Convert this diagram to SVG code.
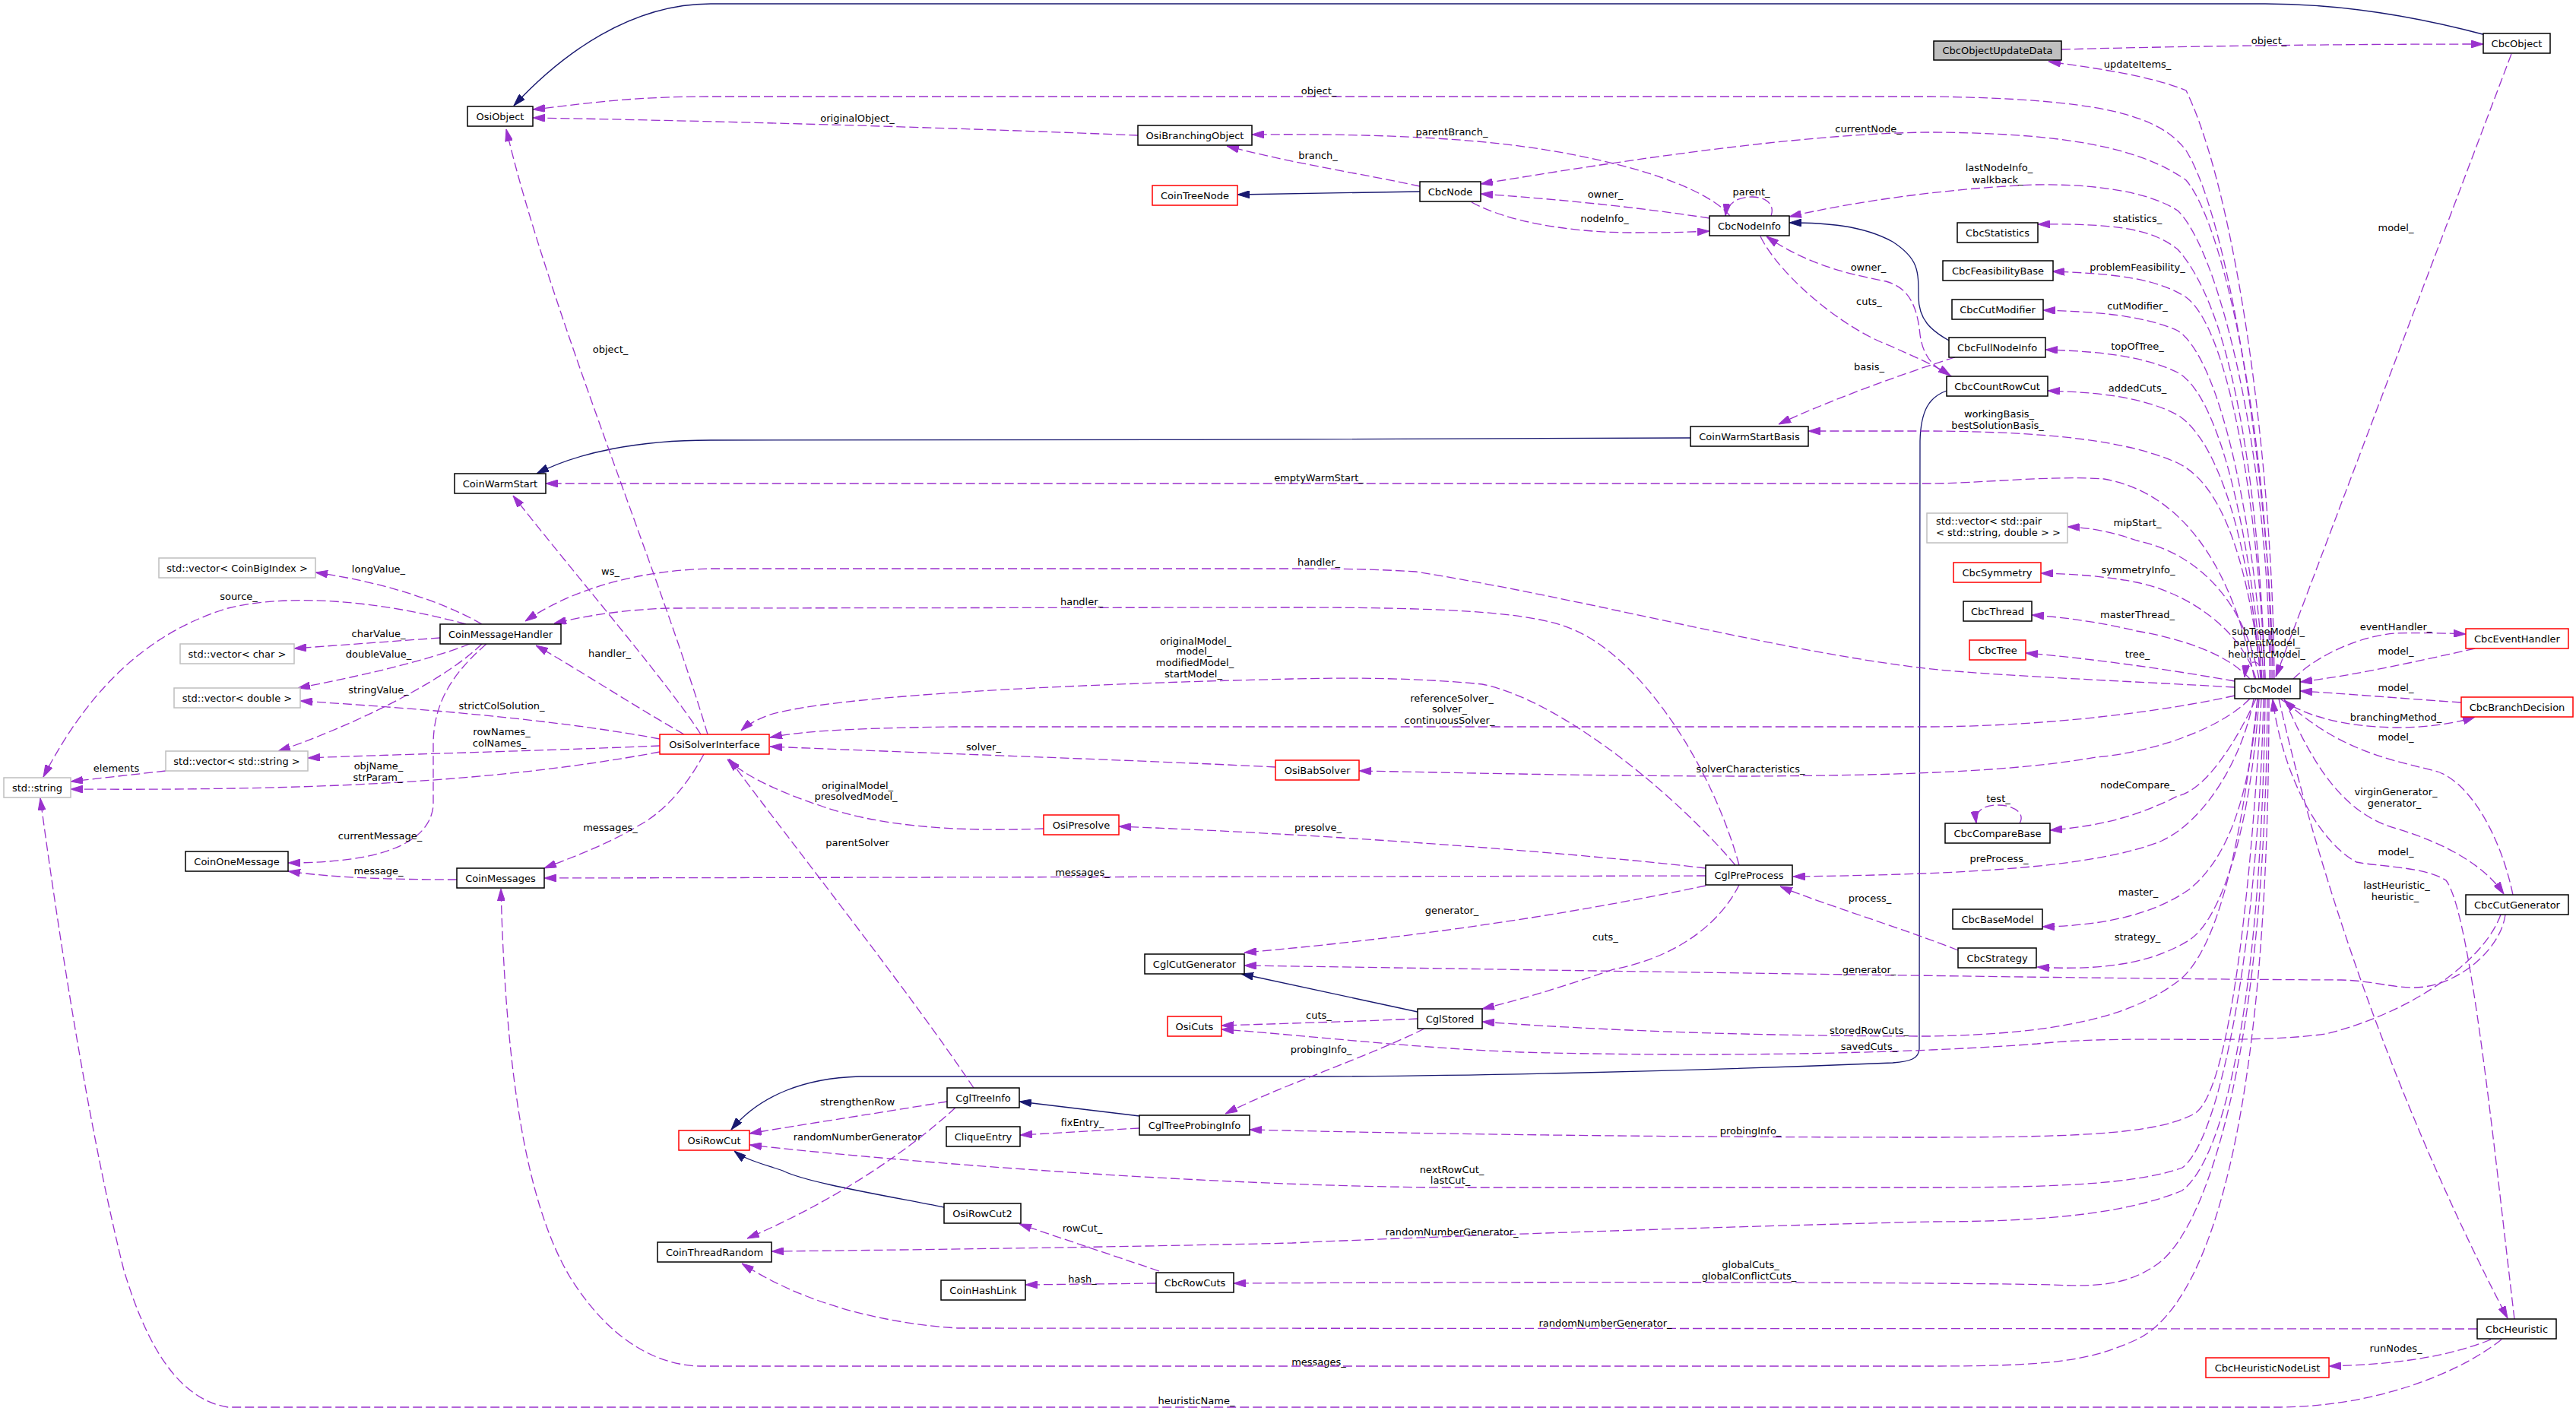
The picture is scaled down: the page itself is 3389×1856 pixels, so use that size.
<svg xmlns="http://www.w3.org/2000/svg" width="3389" height="1856" viewBox="0 0 3389 1856">
<style>
rect{fill:#fff;stroke:#000;stroke-width:1.5}
rect.r{stroke:#ff0000}
rect.g{stroke:#bfbfbf}
rect.f{fill:#bfbfbf}
text{font-family:"DejaVu Sans","Liberation Sans",sans-serif;font-size:13px;fill:#000}
.n text{text-anchor:middle}
.e{fill:none;stroke:#9a32cd;stroke-width:1.3;stroke-dasharray:12,5;marker-end:url(#ap)}
.i{fill:none;stroke:#191970;stroke-width:1.3;marker-end:url(#an)}
.l text{text-anchor:middle}
</style>
<defs>
<marker id="ap" markerUnits="userSpaceOnUse" viewBox="0 0 16 10" refX="16" refY="5" markerWidth="16" markerHeight="10" orient="auto"><path d="M0,0 L16,5 L0,10 z" fill="#9a32cd" stroke="#9a32cd" stroke-width="1"/></marker>
<marker id="an" markerUnits="userSpaceOnUse" viewBox="0 0 16 10" refX="16" refY="5" markerWidth="16" markerHeight="10" orient="auto"><path d="M0,0 L16,5 L0,10 z" fill="#191970" stroke="#191970" stroke-width="1"/></marker>
</defs>
<rect x="0" y="0" width="3389" height="1856" style="fill:#fff;stroke:none"/>
<g id="edges">
<path class="i" d="M3270,46 C3150,14 3050,5 2980,5 L935,5 C830,5 740,70 676,139"/>
<path class="i" d="M1868,252 L1628,256"/>
<path class="i" d="M2566,449 C2540,435 2524,420 2524,390 C2524,356 2524,340 2490,318 C2450,296 2400,293 2354,293"/>
<path class="i" d="M2224,576 C2100,578 1100,579 935,579 C840,579 760,595 706,623"/>
<path class="i" d="M2561,514 C2538,522 2527,540 2526,580 L2525,1380 C2524,1392 2515,1396 2490,1398 C2200,1410 1900,1416 1700,1416 L1130,1416 C1060,1418 1000,1440 962,1486"/>
<path class="i" d="M1499,1468 L1341,1449"/>
<path class="i" d="M1242,1588 C1150,1570 1060,1555 1030,1540 C1000,1530 980,1525 966,1514"/>
<path class="i" d="M1865,1331 L1633,1281"/>

<path class="e" d="M2990,893 C2990,700 2940,300 2876,198 C2840,150 2760,130 2540,127 L935,127 C820,127 760,138 701,144"/>
<path class="e" d="M1497,178 C1300,170 1000,160 701,155"/>
<path class="e" d="M2276,284 C2240,240 2100,200 1944,186 C1850,178 1750,176 1647,177"/>
<path class="e" d="M1868,245 C1800,230 1700,215 1614,192"/>
<path class="e" d="M2988,893 C2988,600 2930,300 2876,237 C2810,190 2700,175 2540,174 C2400,175 2200,200 1948,242"/>
<path class="e" d="M2249,287 C2150,272 2050,262 1948,255"/>
<path class="e" d="M1936,266 C1980,290 2060,306 2150,306 C2200,306 2230,305 2249,304"/>
<path class="e" d="M2330,284 C2335,270 2325,259 2305,259 C2285,259 2272,268 2270,284"/>
<path class="e" d="M2986,893 C2986,600 2920,330 2865,277 C2820,248 2740,242 2676,243 C2560,248 2440,265 2354,285"/>
<path class="e" d="M2568,495 C2545,485 2530,470 2526,440 C2522,400 2510,378 2481,370 C2440,362 2380,350 2324,311"/>
<path class="e" d="M2316,311 C2340,360 2420,430 2487,455 C2520,470 2545,480 2566,494"/>
<path class="e" d="M2572,470 C2545,478 2420,520 2340,558"/>
<path class="e" d="M2975,893 C2960,760 2930,640 2865,609 C2800,580 2700,568 2540,567 L2379,567"/>
<path class="e" d="M2992,893 C2990,600 2940,250 2876,119 C2830,100 2760,90 2695,81"/>
<path class="e" d="M2712,65 C2900,60 3100,58 3267,58"/>
<path class="e" d="M3304,71 L2994,890"/>
<path class="e" d="M2980,893 C2970,600 2930,400 2865,328 C2830,300 2780,294 2681,295"/>
<path class="e" d="M2980,893 C2970,650 2930,430 2876,391 C2840,368 2790,360 2700,357"/>
<path class="e" d="M2978,893 C2965,680 2920,470 2865,435 C2820,415 2760,410 2688,408"/>
<path class="e" d="M2976,893 C2960,700 2920,520 2865,490 C2820,468 2760,462 2691,460"/>
<path class="e" d="M2974,893 C2960,720 2920,580 2865,546 C2820,522 2760,516 2694,514"/>
<path class="e" d="M2972,893 C2955,800 2900,730 2811,711 C2780,700 2750,694 2720,693"/>
<path class="e" d="M2968,893 C2950,830 2880,780 2811,766 C2770,758 2730,755 2685,754"/>
<path class="e" d="M2960,893 C2930,860 2870,840 2811,830 C2770,820 2720,812 2673,809"/>
<path class="e" d="M2940,896 C2850,880 2750,866 2665,859"/>
<path class="e" d="M2975,893 C2978,866 2956,862 2953,891"/>
<path class="e" d="M2940,904 C2800,896 2650,890 2550,881 C2350,860 2100,790 1863,752 C1800,748 1750,748 1700,748 L935,748 C850,750 760,770 691,817"/>
<path class="e" d="M2288,1138 C2250,1000 2150,850 2053,822 C2000,805 1900,799 1700,799 L880,800 C820,802 770,810 729,820"/>
<path class="e" d="M2966,893 C2940,760 2880,650 2768,630 C2700,625 2600,636 2540,636 L718,636"/>
<path class="e" d="M2283,1138 C2200,1040 2050,920 1950,900 C1850,890 1750,892 1700,893 C1400,900 1100,915 1013,940 C995,947 985,952 975,961"/>
<path class="e" d="M2940,915 C2850,935 2700,955 2540,956 L1256,956 C1100,958 1050,963 1013,970"/>
<path class="e" d="M1678,1009 C1500,1000 1200,990 1013,982"/>
<path class="e" d="M2960,919 C2920,960 2830,990 2757,996 C2650,1015 2500,1020 2300,1021 C2100,1021 1900,1016 1788,1014"/>
<path class="e" d="M2244,1142 C2100,1125 1800,1100 1472,1087"/>
<path class="e" d="M1373,1090 C1250,1095 1150,1085 1080,1060 C1020,1040 980,1020 957,999"/>
<path class="e" d="M1281,1431 C1200,1310 1050,1120 959,998"/>
<path class="e" d="M2244,1152 L716,1155"/>
<path class="e" d="M2965,919 C2950,1000 2900,1080 2844,1106 C2760,1140 2600,1150 2359,1153"/>
<path class="e" d="M2576,1250 C2500,1220 2400,1190 2342,1166"/>
<path class="e" d="M2244,1165 C2100,1195 1900,1230 1637,1253"/>
<path class="e" d="M2288,1164 C2260,1220 2200,1260 2123,1275 C2050,1300 2000,1315 1950,1327"/>
<path class="e" d="M2970,919 C2950,1100 2920,1250 2865,1291 C2800,1340 2700,1360 2540,1363 C2300,1363 2100,1355 1950,1344"/>
<path class="e" d="M3290,1203 C3270,1260 3180,1330 3060,1360 C2950,1375 2800,1360 2680,1373 C2550,1383 2300,1392 2000,1384 C1850,1378 1700,1360 1607,1354"/>
<path class="e" d="M3296,1203 C3290,1250 3230,1300 3174,1299 C3140,1298 3120,1290 3080,1289 C2800,1288 2300,1280 1637,1270"/>
<path class="e" d="M1874,1353 C1800,1390 1680,1430 1612,1465"/>
<path class="e" d="M2975,919 C2960,1200 2930,1440 2887,1465 C2840,1490 2750,1496 2540,1496 C2200,1496 1900,1492 1644,1486"/>
<path class="e" d="M1865,1340 C1800,1343 1700,1346 1607,1349"/>
<path class="e" d="M2978,919 C2970,1250 2920,1500 2871,1536 C2810,1558 2700,1562 2540,1562 L1900,1562 C1600,1560 1200,1530 986,1506"/>
<path class="e" d="M1246,1449 C1150,1465 1050,1480 986,1491"/>
<path class="e" d="M1257,1457 C1210,1500 1120,1570 983,1629"/>
<path class="e" d="M1499,1484 L1342,1493"/>
<path class="e" d="M2980,919 C2975,1300 2930,1520 2871,1566 C2800,1595 2700,1607 2540,1607 C2200,1615 1800,1630 1700,1635 C1400,1642 1100,1645 1015,1646"/>
<path class="e" d="M1525,1672 C1460,1650 1400,1630 1341,1610"/>
<path class="e" d="M1521,1688 L1349,1690"/>
<path class="e" d="M2983,919 C2980,1400 2900,1620 2838,1663 C2800,1690 2760,1693 2700,1690 C2500,1686 2000,1686 1623,1688"/>
<path class="e" d="M3259,1748 L1260,1747 C1150,1740 1050,1710 976,1662"/>
<path class="e" d="M2985,919 C2985,1500 2900,1720 2811,1762 C2750,1790 2700,1797 2540,1797 L920,1797 C860,1795 800,1760 750,1680 C690,1580 665,1400 659,1169"/>
<path class="e" d="M3291,1762 C3230,1810 3120,1850 3000,1851 L300,1851 C230,1840 190,1760 163,1671 C120,1500 80,1250 53,1050"/>
<path class="e" d="M3277,1762 C3220,1785 3150,1795 3064,1797"/>
<path class="e" d="M2998,919 C3050,1150 3150,1450 3299,1734"/>
<path class="e" d="M3308,1735 C3280,1500 3250,1200 3218,1158 C3190,1140 3130,1140 3100,1134 C3040,1100 3000,1000 2990,920"/>
<path class="e" d="M3005,919 C3040,1000 3080,1070 3153,1090 C3220,1110 3270,1140 3294,1176"/>
<path class="e" d="M3306,1177 C3290,1100 3250,1030 3207,1015 C3150,1000 3080,990 3005,921"/>
<path class="e" d="M3017,893 C3050,860 3110,835 3153,833 C3190,832 3220,833 3244,834"/>
<path class="e" d="M3256,853 C3180,870 3100,888 3026,897"/>
<path class="e" d="M3238,924 C3150,918 3080,912 3026,909"/>
<path class="e" d="M3001,920 C3030,940 3080,956 3153,957 C3200,957 3235,950 3256,943"/>
<path class="e" d="M2968,919 C2940,980 2900,1040 2865,1047 C2810,1075 2760,1087 2697,1092"/>
<path class="e" d="M2657,1083 C2665,1070 2650,1059 2628,1059 C2608,1059 2598,1068 2600,1083"/>
<path class="e" d="M2970,919 C2960,1050 2930,1130 2880,1170 C2830,1205 2760,1218 2687,1219"/>
<path class="e" d="M2972,919 C2960,1100 2920,1210 2881,1236 C2840,1262 2780,1278 2680,1272"/>
<path class="e" d="M931,966 C870,760 720,400 666,170"/>
<path class="e" d="M922,966 C880,900 760,760 675,652"/>
<path class="e" d="M900,966 C820,920 760,880 705,849"/>
<path class="e" d="M926,992 C900,1040 870,1070 840,1086 C800,1110 760,1125 716,1142"/>
<path class="e" d="M868,972 C750,950 600,935 395,922"/>
<path class="e" d="M868,981 C700,988 500,993 405,997"/>
<path class="e" d="M868,989 C650,1030 400,1040 93,1038"/>
<path class="e" d="M218,1014 L93,1028"/>
<path class="e" d="M634,821 C580,790 500,765 415,753"/>
<path class="e" d="M613,821 C500,790 380,780 300,800 C200,830 120,900 57,1022"/>
<path class="e" d="M579,839 L387,853"/>
<path class="e" d="M618,847 C560,870 470,890 392,905"/>
<path class="e" d="M634,847 C580,900 450,960 366,988"/>
<path class="e" d="M640,847 C590,890 570,930 570,980 L570,1060 C565,1110 500,1135 379,1135"/>
<path class="e" d="M601,1157 C520,1157 440,1155 379,1146"/>
</g>
<g id="edge-labels" class="l">
<text x="1735" y="124">object_</text>
<text x="1128" y="160">originalObject_</text>
<text x="1910" y="178">parentBranch_</text>
<text x="1734" y="209">branch_</text>
<text x="2458" y="174">currentNode_</text>
<text x="2112" y="260">owner_</text>
<text x="2111" y="292">nodeInfo_</text>
<text x="2304" y="257">parent_</text>
<text x="2630" y="225">lastNodeInfo_</text>
<text x="2628" y="241">walkback_</text>
<text x="2458" y="356">owner_</text>
<text x="2459" y="401">cuts_</text>
<text x="2459" y="487">basis_</text>
<text x="2630" y="549">workingBasis_</text>
<text x="2628" y="564">bestSolutionBasis_</text>
<text x="2812" y="89">updateItems_</text>
<text x="2985" y="58">object_</text>
<text x="3152" y="304">model_</text>
<text x="2812" y="292">statistics_</text>
<text x="2812" y="356">problemFeasibility_</text>
<text x="2812" y="407">cutModifier_</text>
<text x="2812" y="460">topOfTree_</text>
<text x="2812" y="515">addedCuts_</text>
<text x="2812" y="692">mipStart_</text>
<text x="2813" y="754">symmetryInfo_</text>
<text x="2812" y="813">masterThread_</text>
<text x="2812" y="865">tree_</text>
<text x="2984" y="835">subTreeModel_</text>
<text x="2982" y="850">parentModel_</text>
<text x="2982" y="865">heuristicModel_</text>
<text x="3152" y="829">eventHandler_</text>
<text x="3152" y="861">model_</text>
<text x="3152" y="909">model_</text>
<text x="3152" y="948">branchingMethod_</text>
<text x="3152" y="974">model_</text>
<text x="2812" y="1037">nodeCompare_</text>
<text x="2629" y="1055">test_</text>
<text x="2630" y="1134">preProcess_</text>
<text x="3152" y="1046">virginGenerator_</text>
<text x="3150" y="1061">generator_</text>
<text x="3152" y="1125">model_</text>
<text x="3153" y="1169">lastHeuristic_</text>
<text x="3151" y="1184">heuristic_</text>
<text x="2813" y="1178">master_</text>
<text x="2812" y="1237">strategy_</text>
<text x="3152" y="1778">runNodes_</text>
<text x="498" y="753">longValue_</text>
<text x="314" y="789">source_</text>
<text x="498" y="838">charValue_</text>
<text x="498" y="865">doubleValue_</text>
<text x="498" y="912">stringValue_</text>
<text x="660" y="933">strictColSolution_</text>
<text x="660" y="967">rowNames_</text>
<text x="657" y="982">colNames_</text>
<text x="498" y="1012">objName_</text>
<text x="497" y="1027">strParam_</text>
<text x="153" y="1015">elements</text>
<text x="500" y="1104">currentMessage_</text>
<text x="498" y="1150">message_</text>
<text x="803" y="1093">messages_</text>
<text x="803" y="756">ws_</text>
<text x="802" y="864">handler_</text>
<text x="803" y="464">object_</text>
<text x="1423" y="796">handler_</text>
<text x="1573" y="848">originalModel_</text>
<text x="1571" y="861">model_</text>
<text x="1572" y="876">modifiedModel_</text>
<text x="1570" y="891">startModel_</text>
<text x="1294" y="987">solver_</text>
<text x="1128" y="1038">originalModel_</text>
<text x="1126" y="1052">presolvedModel_</text>
<text x="1128" y="1113">parentSolver</text>
<text x="1424" y="1152">messages_</text>
<text x="1735" y="633">emptyWarmStart_</text>
<text x="1735" y="744">handler_</text>
<text x="1910" y="923">referenceSolver_</text>
<text x="1907" y="937">solver_</text>
<text x="1907" y="952">continuousSolver_</text>
<text x="2303" y="1016">solverCharacteristics_</text>
<text x="1734" y="1093">presolve_</text>
<text x="1910" y="1202">generator_</text>
<text x="2112" y="1237">cuts_</text>
<text x="2460" y="1186">process_</text>
<text x="2459" y="1280">generator_</text>
<text x="1735" y="1340">cuts_</text>
<text x="2459" y="1360">storedRowCuts_</text>
<text x="2459" y="1381">savedCuts_</text>
<text x="1738" y="1385">probingInfo_</text>
<text x="2303" y="1492">probingInfo_</text>
<text x="1910" y="1543">nextRowCut_</text>
<text x="1908" y="1557">lastCut_</text>
<text x="1910" y="1625">randomNumberGenerator_</text>
<text x="2303" y="1668">globalCuts_</text>
<text x="2301" y="1683">globalConflictCuts_</text>
<text x="2112" y="1745">randomNumberGenerator_</text>
<text x="1735" y="1796">messages_</text>
<text x="1574" y="1847">heuristicName_</text>
<text x="1128" y="1454">strengthenRow</text>
<text x="1128" y="1500">randomNumberGenerator</text>
<text x="1424" y="1481">fixEntry_</text>
<text x="1424" y="1620">rowCut_</text>
<text x="1424" y="1687">hash_</text>
</g>
<g class="n">
<g id="node-OsiObject"><rect x="615" y="140" width="86" height="26"/><text x="658" y="158">OsiObject</text></g>
<g id="node-OsiBranchingObject"><rect x="1497" y="165" width="150" height="26"/><text x="1572" y="183">OsiBranchingObject</text></g>
<g id="node-CoinTreeNode"><rect class="r" x="1516" y="244" width="112" height="26"/><text x="1572" y="262">CoinTreeNode</text></g>
<g id="node-CbcNode"><rect x="1868" y="239" width="80" height="26"/><text x="1908" y="257">CbcNode</text></g>
<g id="node-CbcNodeInfo"><rect x="2249" y="284" width="105" height="26"/><text x="2301.5" y="302">CbcNodeInfo</text></g>
<g id="node-CoinWarmStartBasis"><rect x="2224" y="561" width="155" height="26"/><text x="2301.5" y="579">CoinWarmStartBasis</text></g>
<g id="node-CbcObjectUpdateData"><rect class="f" x="2544" y="54" width="168" height="25"/><text x="2628" y="71">CbcObjectUpdateData</text></g>
<g id="node-CbcObject"><rect x="3267" y="44" width="88" height="26"/><text x="3311" y="62">CbcObject</text></g>
<g id="node-CbcStatistics"><rect x="2575" y="293" width="106" height="26"/><text x="2628" y="311">CbcStatistics</text></g>
<g id="node-CbcFeasibilityBase"><rect x="2556" y="343" width="145" height="26"/><text x="2628.5" y="361">CbcFeasibilityBase</text></g>
<g id="node-CbcCutModifier"><rect x="2568" y="394" width="120" height="26"/><text x="2628" y="412">CbcCutModifier</text></g>
<g id="node-CbcFullNodeInfo"><rect x="2564" y="444" width="127" height="26"/><text x="2627.5" y="462">CbcFullNodeInfo</text></g>
<g id="node-CbcCountRowCut"><rect x="2561" y="495" width="133" height="26"/><text x="2627.5" y="513">CbcCountRowCut</text></g>
<g id="node-CoinWarmStart"><rect x="598" y="623" width="120" height="26"/><text x="658" y="641">CoinWarmStart</text></g>
<g id="node-vecCoinBigIndex"><rect class="g" x="209" y="734" width="206" height="26"/><text x="312" y="752">std::vector&lt; CoinBigIndex &gt;</text></g>
<g id="node-CoinMessageHandler"><rect x="579" y="821" width="159" height="26"/><text x="658.5" y="839">CoinMessageHandler</text></g>
<g id="node-vecChar"><rect class="g" x="237" y="847" width="150" height="26"/><text x="312" y="865">std::vector&lt; char &gt;</text></g>
<g id="node-vecDouble"><rect class="g" x="229" y="905" width="166" height="26"/><text x="312" y="923">std::vector&lt; double &gt;</text></g>
<g id="node-vecString"><rect class="g" x="218" y="988" width="187" height="26"/><text x="311.5" y="1006">std::vector&lt; std::string &gt;</text></g>
<g id="node-stdString"><rect class="g" x="5" y="1023" width="88" height="26"/><text x="49" y="1041">std::string</text></g>
<g id="node-CoinOneMessage"><rect x="244" y="1120" width="135" height="26"/><text x="311.5" y="1138">CoinOneMessage</text></g>
<g id="node-CoinMessages"><rect x="601" y="1142" width="115" height="26"/><text x="658.5" y="1160">CoinMessages</text></g>
<g id="node-OsiSolverInterface"><rect class="r" x="868" y="966" width="144" height="26"/><text x="940" y="984">OsiSolverInterface</text></g>
<g id="node-OsiPresolve"><rect class="r" x="1373" y="1072" width="99" height="26"/><text x="1422.5" y="1090">OsiPresolve</text></g>
<g id="node-OsiBabSolver"><rect class="r" x="1678" y="1000" width="110" height="26"/><text x="1733" y="1018">OsiBabSolver</text></g>
<g id="node-CglPreProcess"><rect x="2244" y="1138" width="114" height="26"/><text x="2301" y="1156">CglPreProcess</text></g>
<g id="node-vecPair"><rect class="g" x="2535" y="675" width="185" height="39"/><text x="2547" y="690" style="text-anchor:start">std::vector&lt; std::pair</text><text x="2547" y="705" style="text-anchor:start">&lt; std::string, double &gt; &gt;</text></g>
<g id="node-CbcSymmetry"><rect class="r" x="2570" y="740" width="115" height="26"/><text x="2627.5" y="758">CbcSymmetry</text></g>
<g id="node-CbcThread"><rect x="2583" y="791" width="90" height="26"/><text x="2628" y="809">CbcThread</text></g>
<g id="node-CbcTree"><rect class="r" x="2591" y="842" width="74" height="26"/><text x="2628" y="860">CbcTree</text></g>
<g id="node-CbcModel"><rect x="2940" y="893" width="86" height="26"/><text x="2983" y="911">CbcModel</text></g>
<g id="node-CbcEventHandler"><rect class="r" x="3244" y="827" width="135" height="26"/><text x="3311.5" y="845">CbcEventHandler</text></g>
<g id="node-CbcBranchDecision"><rect class="r" x="3238" y="917" width="147" height="26"/><text x="3311.5" y="935">CbcBranchDecision</text></g>
<g id="node-CbcCompareBase"><rect x="2559" y="1083" width="138" height="26"/><text x="2628" y="1101">CbcCompareBase</text></g>
<g id="node-CbcBaseModel"><rect x="2569" y="1196" width="118" height="26"/><text x="2628" y="1214">CbcBaseModel</text></g>
<g id="node-CbcCutGenerator"><rect x="3244" y="1177" width="135" height="26"/><text x="3311.5" y="1195">CbcCutGenerator</text></g>
<g id="node-CbcStrategy"><rect x="2576" y="1247" width="103" height="26"/><text x="2627.5" y="1265">CbcStrategy</text></g>
<g id="node-CglCutGenerator"><rect x="1506" y="1255" width="131" height="26"/><text x="1571.5" y="1273">CglCutGenerator</text></g>
<g id="node-OsiCuts"><rect class="r" x="1536" y="1337" width="71" height="26"/><text x="1571.5" y="1355">OsiCuts</text></g>
<g id="node-CglStored"><rect x="1865" y="1327" width="85" height="26"/><text x="1907.5" y="1345">CglStored</text></g>
<g id="node-CglTreeInfo"><rect x="1246" y="1431" width="95" height="26"/><text x="1293.5" y="1449">CglTreeInfo</text></g>
<g id="node-CglTreeProbingInfo"><rect x="1499" y="1467" width="145" height="26"/><text x="1571.5" y="1485">CglTreeProbingInfo</text></g>
<g id="node-OsiRowCut"><rect class="r" x="893" y="1487" width="93" height="26"/><text x="939.5" y="1505">OsiRowCut</text></g>
<g id="node-CliqueEntry"><rect x="1245" y="1482" width="97" height="26"/><text x="1293.5" y="1500">CliqueEntry</text></g>
<g id="node-OsiRowCut2"><rect x="1242" y="1583" width="101" height="26"/><text x="1292.5" y="1601">OsiRowCut2</text></g>
<g id="node-CoinThreadRandom"><rect x="865" y="1634" width="150" height="26"/><text x="940" y="1652">CoinThreadRandom</text></g>
<g id="node-CbcRowCuts"><rect x="1521" y="1674" width="102" height="26"/><text x="1572" y="1692">CbcRowCuts</text></g>
<g id="node-CoinHashLink"><rect x="1238" y="1684" width="111" height="26"/><text x="1293.5" y="1702">CoinHashLink</text></g>
<g id="node-CbcHeuristic"><rect x="3259" y="1735" width="104" height="26"/><text x="3311" y="1753">CbcHeuristic</text></g>
<g id="node-CbcHeuristicNodeList"><rect class="r" x="2902" y="1786" width="162" height="26"/><text x="2983" y="1804">CbcHeuristicNodeList</text></g>
</g>
</svg>
